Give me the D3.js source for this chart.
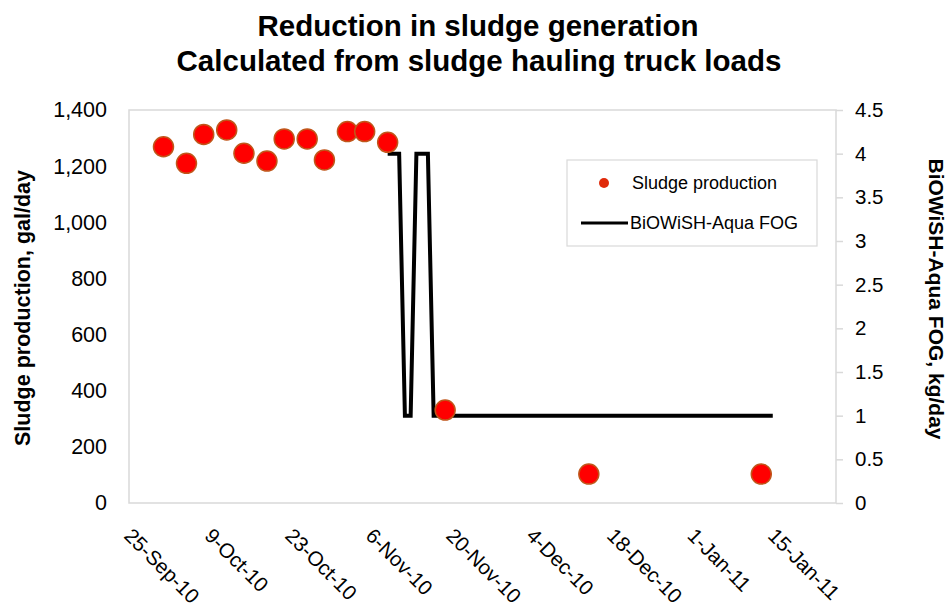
<!DOCTYPE html>
<html>
<head>
<meta charset="utf-8">
<script src="https://cdn.jsdelivr.net/npm/d3@7"></script>
<style>
  body { margin: 0; background: #fff; }
  text { font-family: "Liberation Sans", Arial, sans-serif; fill: #000; }
</style>
</head>
<body>
<svg id="chart" width="948" height="613"></svg>
<script>
// ---- data ----
const sludgeDates = ["2010-10-01","2010-10-05","2010-10-08","2010-10-12","2010-10-15","2010-10-19","2010-10-22","2010-10-26","2010-10-29","2010-11-02","2010-11-05","2010-11-09","2010-11-19","2010-12-14","2011-01-13"];
const sludgeValues = [1269, 1210, 1313, 1329, 1246, 1218, 1297, 1297, 1222, 1323, 1323, 1285, 331, 103, 103];
const fogDates = ["2010-11-09","2010-11-10","2010-11-11","2010-11-12","2010-11-13","2010-11-14","2010-11-15","2010-11-16","2010-11-17","2011-01-15"];
const fogValues = [4, 4, 4, 1, 1, 4, 4, 4, 1, 1];
const xTickDates = ["2010-09-25","2010-10-09","2010-10-23","2010-11-06","2010-11-20","2010-12-04","2010-12-18","2011-01-01","2011-01-15"];
const xTickLabels = ["25-Sep-10","9-Oct-10","23-Oct-10","6-Nov-10","20-Nov-10","4-Dec-10","18-Dec-10","1-Jan-11","15-Jan-11"];
const leftTicks = [0, 200, 400, 600, 800, 1000, 1200, 1400];
const rightTicks = [0, 0.5, 1, 1.5, 2, 2.5, 3, 3.5, 4, 4.5];
const xDomain = ["2010-09-25", "2011-01-26"];

// ---- layout ----
const parse = d3.utcParse("%Y-%m-%d");
const svg = d3.select("#chart");
const plot = { left: 129, right: 836, top: 110, bottom: 503 };

const x = d3.scaleUtc().domain(xDomain.map(parse)).range([plot.left, plot.right]);
const yL = d3.scaleLinear().domain([0, 1400]).range([plot.bottom, plot.top]);
const yR = d3.scaleLinear().domain([0, 4.5]).range([plot.bottom, plot.top]);

// title
svg.append("text").attr("x", 478).attr("y", 36).attr("text-anchor", "middle")
  .style("font-size", "29.5px").style("font-weight", "bold").text("Reduction in sludge generation");
svg.append("text").attr("x", 479).attr("y", 71).attr("text-anchor", "middle")
  .style("font-size", "29.5px").style("font-weight", "bold").text("Calculated from sludge hauling truck loads");

// plot border
svg.append("rect").attr("x", plot.left).attr("y", plot.top)
  .attr("width", plot.right - plot.left).attr("height", plot.bottom - plot.top)
  .attr("fill", "none").attr("stroke", "#d9d9d9").attr("stroke-width", 1.5);

// left axis
const gL = svg.append("g").attr("transform", `translate(${plot.left},0)`)
  .call(d3.axisLeft(yL).tickValues(leftTicks).tickSize(0).tickPadding(22).tickFormat(d3.format(",")));
gL.select(".domain").remove();
gL.selectAll("text").style("font-size", "21.5px").style("font-family", "Liberation Sans, Arial, sans-serif").attr("fill", "#1a1a1a");

// right axis
const gR = svg.append("g").attr("transform", `translate(${plot.right},0)`)
  .call(d3.axisRight(yR).tickValues(rightTicks).tickSize(7).tickPadding(12).tickFormat(d3.format("")));
gR.select(".domain").remove();
gR.selectAll("line").attr("stroke", "#d9d9d9").attr("stroke-width", 1.5);
gR.selectAll("text").style("font-size", "20.5px").style("font-family", "Liberation Sans, Arial, sans-serif").attr("fill", "#1a1a1a");

// x axis labels
const gX = svg.append("g");
gX.selectAll("text").data(xTickDates).join("text")
  .attr("transform", d => `translate(${x(parse(d)) - 6},537) rotate(45)`)
  .attr("text-anchor", "start")
  .style("font-size", "20.5px").attr("fill", "#1a1a1a")
  .text((d, i) => xTickLabels[i]);

// axis titles
svg.append("text").attr("transform", "translate(30,308) rotate(-90)").attr("text-anchor", "middle")
  .style("font-size", "21.5px").style("font-weight", "bold").text("Sludge production, gal/day");
svg.append("text").attr("transform", "translate(929,299) rotate(90)").attr("text-anchor", "middle")
  .style("font-size", "21px").style("font-weight", "bold").text("BiOWiSH-Aqua FOG, kg/day");

// FOG line
const fogData = fogDates.map((d, i) => ({ date: parse(d), v: fogValues[i] }));
svg.append("path").datum(fogData)
  .attr("fill", "none").attr("stroke", "#000").attr("stroke-width", 4).attr("stroke-linejoin", "miter")
  .attr("d", d3.line().x(d => x(d.date)).y(d => yR(d.v)));

// sludge points
const sludgeData = sludgeDates.map((d, i) => ({ date: parse(d), v: sludgeValues[i] }));
svg.append("g").selectAll("circle").data(sludgeData).join("circle")
  .attr("cx", d => x(d.date)).attr("cy", d => yL(d.v)).attr("r", 10)
  .attr("fill", "#ff0000").attr("stroke", "#c0561a").attr("stroke-width", 1.5);

// legend
const lg = svg.append("g");
lg.append("rect").attr("x", 567).attr("y", 160).attr("width", 250).attr("height", 86)
  .attr("fill", "#fff").attr("stroke", "#d9d9d9").attr("stroke-width", 1.2);
lg.append("circle").attr("cx", 604).attr("cy", 183).attr("r", 5).attr("fill", "#e02a0a");
lg.append("text").attr("x", 632).attr("y", 189).style("font-size", "18px").attr("fill", "#1a1a1a").text("Sludge production");
lg.append("line").attr("x1", 581).attr("x2", 628).attr("y1", 223).attr("y2", 223).attr("stroke", "#000").attr("stroke-width", 3);
lg.append("text").attr("x", 630).attr("y", 229).style("font-size", "18px").attr("fill", "#1a1a1a").text("BiOWiSH-Aqua FOG");
</script>
</body>
</html>
